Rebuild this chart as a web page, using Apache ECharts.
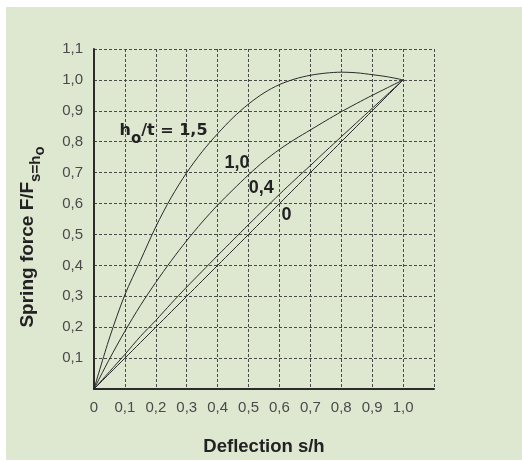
<!DOCTYPE html>
<html><head><meta charset="utf-8">
<script src="https://cdn.jsdelivr.net/npm/echarts@6/dist/echarts.min.js"></script>
<style>
html,body{margin:0;padding:0;background:#fff;}
#panel{position:absolute;left:6px;top:7px;width:516px;height:453px;background:#dee8d1;}
#c{position:absolute;left:0;top:0;width:522px;height:461px;}
</style>
</head><body><div id="panel"></div><div id="c"></div>
<script>
// Deflection s/h sample positions
const deflection = [0,0.05,0.1,0.15,0.2,0.25,0.3,0.35,0.4,0.45,0.5,0.55,0.6,0.65,0.7,0.75,0.8,0.85,0.9,0.95,1.0];
// Spring force F/F(s=h0) for each h0/t
const force_15 = [0,0.165,0.305,0.415,0.525,0.62,0.70,0.768,0.826,0.878,0.922,0.958,0.985,1.003,1.015,1.022,1.025,1.023,1.017,1.01,1.0];
const force_10 = [0,0.097,0.187,0.27,0.345,0.415,0.48,0.54,0.595,0.645,0.693,0.737,0.775,0.808,0.838,0.868,0.897,0.924,0.95,0.975,1.0];
const force_04 = [0,0.056,0.112,0.17,0.222,0.277,0.33,0.381,0.432,0.482,0.532,0.581,0.63,0.677,0.723,0.77,0.816,0.862,0.908,0.954,1.0];
const force_0  = [0,0.05,0.1,0.15,0.2,0.25,0.3,0.35,0.4,0.45,0.5,0.55,0.6,0.65,0.7,0.75,0.8,0.85,0.9,0.95,1.0];
// Tick labels
const xTickLabels = ['0','0,1','0,2','0,3','0,4','0,5','0,6','0,7','0,8','0,9','1,0',''];
const yTickLabels = ['','0,1','0,2','0,3','0,4','0,5','0,6','0,7','0,8','0,9','1,0','1,1'];

const FONT = 'Liberation Sans';
const pairs = ys => deflection.map((x,i)=>[x, ys[i]]);
const lineCol = '#2a2a2a';

function ann(coord, formatter, rich){
  return {
    symbol:'circle', symbolSize:0, silent:true,
    data:[{coord:coord}],
    label:{show:true, position:'inside', formatter:formatter, rich:rich}
  };
}
const numR = {fontFamily:FONT, fontWeight:'bold', color:'#222', fontSize:18, lineHeight:20, verticalAlign:'top'};
const hMain = {fontFamily:'DejaVu Sans', fontWeight:'bold', color:'#222', fontSize:16, lineHeight:20, verticalAlign:'top'};
const hSub = {fontFamily:'DejaVu Sans', fontWeight:'bold', color:'#222', fontSize:15, lineHeight:16, verticalAlign:'top', padding:[9,0,0,0]};

function mkSeries(ys, mp){
  return {type:'line', data:pairs(ys), smooth:0.3, showSymbol:false, symbol:'none',
    lineStyle:{color:lineCol, width:1}, markPoint:mp, z:3};
}

const chart = echarts.init(document.getElementById('c'), null, {renderer:'canvas'});
chart.setOption({
  animation:false,
  backgroundColor:'transparent',
  grid:{left:94, right:88, top:49, bottom:72, containLabel:false},
  xAxis:{
    type:'value', min:0, max:1.1, interval:0.1,
    axisLine:{show:true, onZero:false, lineStyle:{color:'#2b2b2b', width:2}},
    axisTick:{show:false},
    splitLine:{show:true, lineStyle:{type:[3,2], color:'#4a4a4a', width:1}},
    axisLabel:{fontFamily:FONT, fontSize:15, color:'#4a4a4a', margin:11,
      formatter:v=>xTickLabels[Math.round(v*10)] ?? ''},
    name:'Deflection s/h', nameLocation:'middle', nameGap:48,
    nameTextStyle:{fontFamily:FONT, fontSize:18.5, fontWeight:'bold', color:'#222'}
  },
  yAxis:{
    type:'value', min:0, max:1.1, interval:0.1,
    axisLine:{show:true, onZero:false, lineStyle:{color:'#2b2b2b', width:2}},
    axisTick:{show:false},
    splitLine:{show:true, lineStyle:{type:[3,2], color:'#4a4a4a', width:1}},
    axisLabel:{fontFamily:FONT, fontSize:15, color:'#4a4a4a', margin:11,
      formatter:v=>yTickLabels[Math.round(v*10)] ?? ''}
  },
  graphic:[{
    type:'text', x:28.5, y:237, rotation:Math.PI/2, silent:true,
    style:{
      text:'{a|Spring force F/F}{b|s=h}{c|o}',
      align:'center', verticalAlign:'middle',
      rich:{
        a:{fontFamily:FONT, fontSize:19, fontWeight:'bold', fill:'#222', lineHeight:20, verticalAlign:'top'},
        b:{fontFamily:FONT, fontSize:15, fontWeight:'bold', fill:'#222', lineHeight:16, verticalAlign:'top', padding:[10,0,0,0]},
        c:{fontFamily:FONT, fontSize:15, fontWeight:'bold', fill:'#222', lineHeight:16, verticalAlign:'top', padding:[14,0,0,0]}
      }
    }
  }],
  series:[
    mkSeries(force_15, ann([0.225,0.829], '{m|h}{s|o}{m|/t = 1,5}', {m:hMain, s:hSub})),
    mkSeries(force_10, ann([0.463,0.728], '{m|1,0}', {m:numR})),
    mkSeries(force_04, ann([0.541,0.648], '{m|0,4}', {m:numR})),
    mkSeries(force_0,  ann([0.623,0.56], '{m|0}', {m:numR}))
  ]
});
</script>
</body></html>
